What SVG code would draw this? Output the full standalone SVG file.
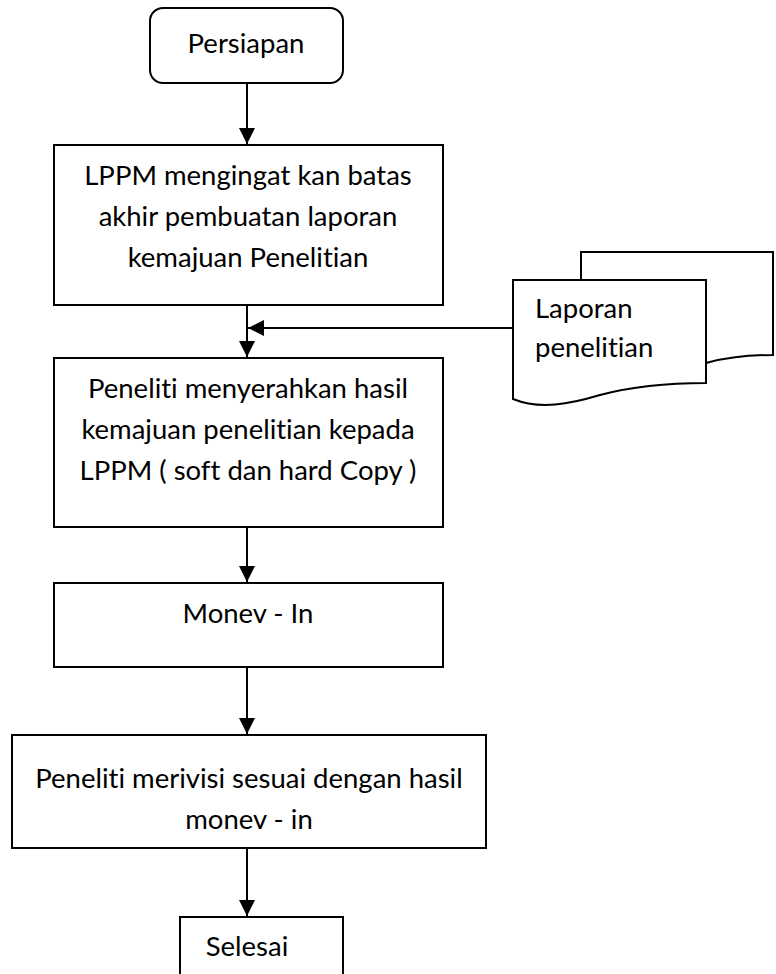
<svg xmlns="http://www.w3.org/2000/svg" width="776" height="974" viewBox="0 0 776 974">
  <style>
    .box { fill: #fff; stroke: #000; stroke-width: 2; }
    .doc { fill: #fff; stroke: #000; stroke-width: 2; stroke-linejoin: miter; }
    .lbl { font-family: Lato, "Open Sans", "Liberation Sans", sans-serif; font-size: 27.5px; fill: #000; text-anchor: middle; font-variant-ligatures: none; font-feature-settings: "liga" 0, "clig" 0; }
    .lbl-l { text-anchor: start; }
    .edge { fill: none; stroke: #000; stroke-width: 2; marker-end: url(#arrow); }
  </style>
  <defs>
    <marker id="arrow" markerUnits="userSpaceOnUse" markerWidth="16" markerHeight="16" refX="16" refY="8" orient="auto">
      <path d="M0,0 L16,8 L0,16 Z" fill="#000"/>
    </marker>
  </defs>
  <rect width="776" height="974" fill="#fff"/>

  <g id="connectors">
    <path class="edge" d="M247,83 V144"/>
    <path class="edge" d="M247,305 V357"/>
    <path class="edge" d="M512,328 H248"/>
    <path class="edge" d="M247,527 V582"/>
    <path class="edge" d="M247,667 V734"/>
    <path class="edge" d="M247,848 V916"/>
  </g>

  <g id="persiapan">
    <rect class="box" x="150" y="8" width="193" height="75" rx="13" ry="13"/>
    <text class="lbl" x="246" y="53">Persiapan</text>
  </g>

  <g id="lppm-reminder">
    <rect class="box" x="54" y="145" width="389" height="160"/>
    <text class="lbl" x="248" y="185">LPPM mengingat kan batas</text>
    <text class="lbl" x="248" y="226">akhir pembuatan laporan</text>
    <text class="lbl" x="248" y="267">kemajuan Penelitian</text>
  </g>

  <g id="laporan-penelitian">
    <path class="doc" d="M581,252 H773 V355 C750,355 728,357 706,363 V280 H581 Z"/>
    <path class="doc" d="M513,280 H706 V383 C670,383 630,387 600,395 C570,404 540,410 513,399 Z"/>
    <text class="lbl lbl-l" x="535" y="318">Laporan</text>
    <text class="lbl lbl-l" x="535" y="357">penelitian</text>
  </g>

  <g id="serah-hasil">
    <rect class="box" x="54" y="358" width="389" height="169"/>
    <text class="lbl" x="248" y="398">Peneliti menyerahkan hasil</text>
    <text class="lbl" x="248" y="439">kemajuan penelitian kepada</text>
    <text class="lbl" x="248" y="480">LPPM ( soft dan hard Copy )</text>
  </g>

  <g id="monev-in">
    <rect class="box" x="54" y="583" width="389" height="84"/>
    <text class="lbl" x="248" y="623">Monev - In</text>
  </g>

  <g id="revisi">
    <rect class="box" x="12" y="735" width="474" height="113"/>
    <text class="lbl" x="249" y="788">Peneliti merivisi sesuai dengan hasil</text>
    <text class="lbl" x="249" y="829">monev - in</text>
  </g>

  <g id="selesai">
    <rect class="box" x="180" y="917" width="163" height="70"/>
    <text class="lbl" x="247" y="956">Selesai</text>
  </g>
</svg>
